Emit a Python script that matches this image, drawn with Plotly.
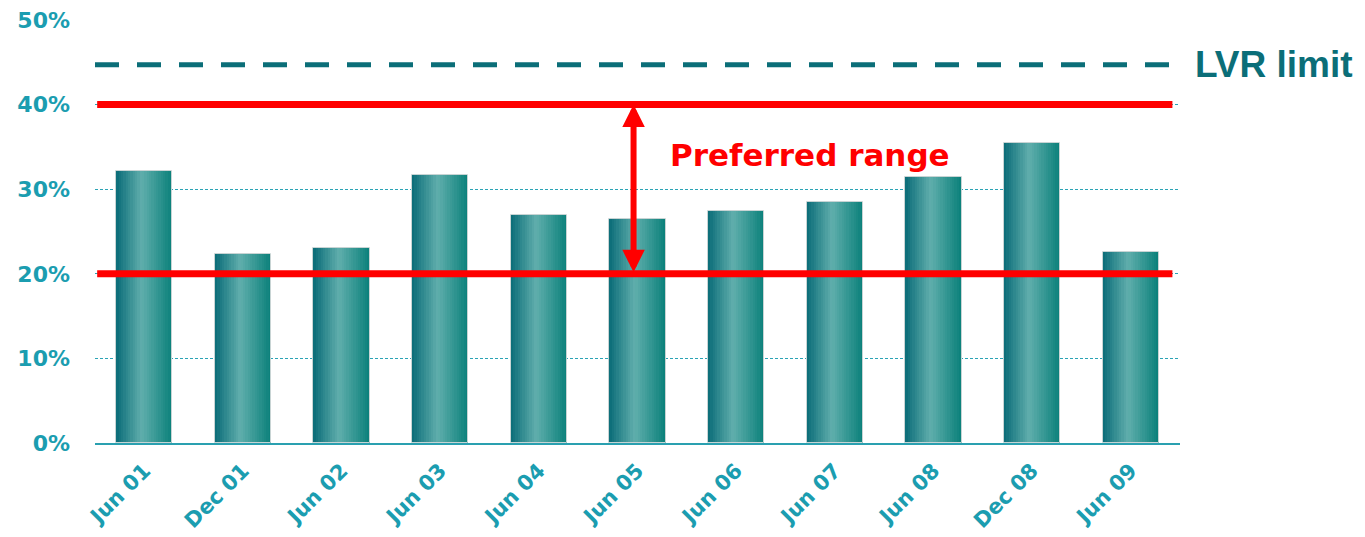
import plotly.graph_objects as go

categories = ["Jun 01", "Dec 01", "Jun 02", "Jun 03", "Jun 04", "Jun 05",
              "Jun 06", "Jun 07", "Jun 08", "Dec 08", "Jun 09"]
values = [32.1, 22.4, 23.0, 31.7, 27.0, 26.5, 27.4, 28.5, 31.5, 35.5, 22.6]
y_ticks = [0, 10, 20, 30, 40, 50]
y_tick_labels = ["0%", "10%", "20%", "30%", "40%", "50%"]
lvr_limit = 44.7
pref_low = 20
pref_high = 40

TEAL_TXT = "#1b9db0"
DARK_TEAL = "#0b6e78"

# gradient stops for bar shading
stops = [(0.0, (10, 108, 120)), (0.45, (96, 174, 172)), (1.0, (10, 128, 122))]


def grad(t):
    for (t0, c0), (t1, c1) in zip(stops[:-1], stops[1:]):
        if t0 <= t <= t1:
            f = (t - t0) / (t1 - t0)
            return "rgb(%d,%d,%d)" % tuple(round(a + (b - a) * f) for a, b in zip(c0, c1))
    return "rgb(%d,%d,%d)" % stops[-1][1]


bar_w = 0.57
n_strips = 24
fig = go.Figure()
sw = bar_w / n_strips
for i in range(n_strips):
    fig.add_trace(go.Bar(
        x=categories, y=values, width=sw * (1.08 if i < n_strips - 1 else 1.0),
        offset=-bar_w / 2 + i * sw,
        marker=dict(color=grad((i + 0.5) / n_strips), line=dict(width=0)),
        showlegend=False, hoverinfo="skip"))
# outline
fig.add_trace(go.Bar(
    x=categories, y=values, width=bar_w, offset=-bar_w / 2,
    marker=dict(color="rgba(0,0,0,0)", line=dict(color="#c8d4d4", width=1)),
    showlegend=False, hovertemplate="%{x}: %{y}%<extra></extra>"))

shapes = [
    dict(type="line", xref="paper", x0=0.0, x1=0.993, yref="y", y0=lvr_limit, y1=lvr_limit,
         line=dict(color=DARK_TEAL, width=5, dash="24px,18px"), layer="above"),
    dict(type="line", xref="paper", x0=0.002, x1=0.993, yref="y", y0=pref_high, y1=pref_high,
         line=dict(color="#ff0000", width=7), layer="above"),
    dict(type="line", xref="paper", x0=0.002, x1=0.993, yref="y", y0=pref_low, y1=pref_low,
         line=dict(color="#ff0000", width=7), layer="above"),
]

annotations = [
    dict(x=4.96, y=pref_high, ax=4.96, ay=pref_low, xref="x", yref="y", axref="x", ayref="y",
         text="", showarrow=True, arrowside="end+start", arrowhead=2, startarrowhead=2,
         arrowsize=0.75, startarrowsize=0.75, arrowwidth=6, arrowcolor="#ff0000",
         standoff=0, startstandoff=0),
    dict(x=6.75, y=34.0, xref="x", yref="y", text="<b>Preferred range</b>", showarrow=False,
         font=dict(family="DejaVu Sans", size=31, color="#ff0000"), xanchor="center", yanchor="middle"),
    dict(x=1.012, y=lvr_limit, xref="paper", yref="y", text="<b>LVR limit</b>", showarrow=False,
         font=dict(family="Liberation Sans", size=37, color=DARK_TEAL), xanchor="left", yanchor="middle"),
]

fig.update_layout(
    width=1365, height=537,
    margin=dict(l=95, r=185, t=20, b=94, autoexpand=False),
    plot_bgcolor="white", paper_bgcolor="white",
    barmode="overlay", bargap=0,
    shapes=shapes, annotations=annotations,
    showlegend=False,
    xaxis=dict(
        type="category", range=[-0.5, 10.5], showgrid=False, automargin=False,
        showline=True, linecolor="#2aa0b0", linewidth=2,
        tickangle=-45, ticks="", ticklabelstandoff=5,
        tickfont=dict(family="DejaVu Sans", size=21, color=TEAL_TXT, weight="bold"),
    ),
    yaxis=dict(
        range=[0, 50], tickvals=y_ticks, ticktext=y_tick_labels, automargin=False,
        showgrid=True, gridcolor="#2aa3b5", gridwidth=1, griddash="3px,2px",
        zeroline=False, showline=False, ticks="", ticklabelstandoff=24,
        tickfont=dict(family="DejaVu Sans", size=22, color=TEAL_TXT, weight="bold"),
    ),
)

fig.write_html("out.html")
